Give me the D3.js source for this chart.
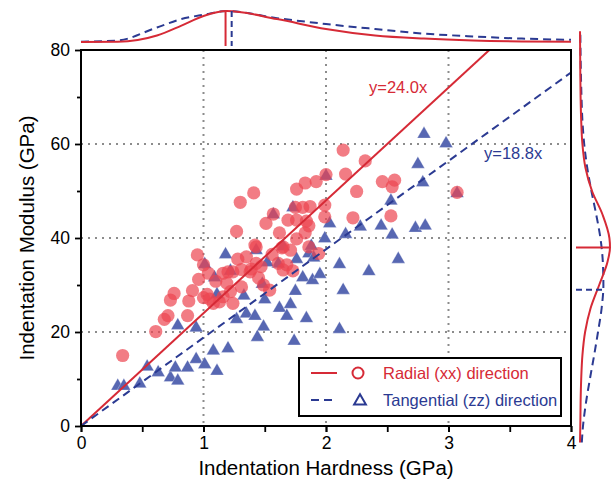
<!DOCTYPE html>
<html lang="en">
<head>
<meta charset="UTF-8">
<title>Indentation Modulus vs Hardness</title>
<script src="https://d3js.org/d3.v7.min.js"></script>
<style>
  body { margin: 0; background: #fff; }
  svg text { font-family: 'Liberation Sans', Arial, sans-serif; }
  .grid line { stroke: #8c8c8c; stroke-width: 2; stroke-dasharray: 2,5; }
  .axis path, .axis line { stroke: #000; stroke-width: 1.8; }
  .axis text { font-size: 17.5px; fill: #000; }
</style>
</head>
<body>
<div id="chart"></div>
<script>
// radial (xx) direction: hardness (GPa), modulus (GPa)
var radialH = [0.34, 0.61, 0.68, 0.71, 0.73, 0.76, 0.87, 0.88, 0.91, 0.95, 0.96, 1.00, 1.03, 1.04, 1.05,
  1.08, 1.13, 1.16, 1.19, 1.22, 1.24, 1.24, 1.31, 1.31, 1.27, 1.38, 1.42, 1.43, 1.47, 1.49,
  1.54, 1.56, 1.61, 1.62, 1.65, 1.68, 1.64, 1.71, 1.76, 1.83, 1.30, 1.41, 1.51, 1.69, 1.76,
  1.83, 1.92, 1.81, 1.87, 1.99, 1.76, 1.84, 1.57, 1.75, 1.99, 1.86, 1.43, 1.65, 1.86, 1.94,
  1.20, 1.39, 1.16, 2.14, 2.16, 2.00, 2.32, 2.25, 2.46, 2.56, 2.54, 3.07, 2.22, 2.53, 1.10,
  1.35, 1.45, 1.28, 1.73, 1.00];
var radialE = [15.0, 20.1, 22.7, 23.5, 26.8, 28.2, 23.5, 26.6, 28.8, 36.4, 31.2, 34.3, 28.0, 32.5, 27.0,
  26.1, 26.4, 32.5, 30.4, 28.6, 26.1, 32.8, 33.3, 29.6, 41.4, 32.8, 38.5, 34.6, 33.9, 30.0,
  28.9, 36.5, 34.6, 41.1, 33.2, 34.3, 37.9, 37.4, 39.8, 41.1, 47.6, 49.6, 43.1, 43.8, 50.4,
  51.7, 52.0, 46.5, 46.7, 47.0, 43.8, 43.6, 45.1, 46.5, 44.5, 42.6, 38.1, 38.1, 38.1, 36.7,
  32.8, 33.4, 27.5, 58.7, 53.6, 53.5, 56.4, 49.9, 52.0, 52.3, 50.9, 49.7, 44.3, 44.7, 30.8,
  36.0, 31.5, 35.5, 33.0, 27.3];

// tangential (zz) direction
var tangentialH = [0.30, 0.35, 0.48, 0.54, 0.63, 0.73, 0.79, 0.77, 0.87, 0.94, 1.01, 1.11, 1.08, 1.20,
  0.79, 0.94, 1.18, 1.01, 1.11, 1.22, 1.09, 1.33, 1.27, 1.35, 1.42, 1.49, 1.44, 1.50, 1.48,
  1.43, 1.62, 1.68, 1.71, 1.75, 1.74, 1.84, 1.81, 1.89, 1.95, 1.76, 1.86, 1.90, 1.88, 1.99,
  1.65, 1.61, 1.52, 2.11, 2.14, 2.80, 2.98, 2.75, 2.79, 2.53, 2.16, 2.28, 2.45, 2.54, 2.73,
  2.81, 2.11, 2.35, 2.59, 2.03, 1.57, 1.73, 2.00, 3.07];
var tangentialE = [8.7, 8.7, 9.2, 12.8, 11.6, 10.5, 9.8, 12.6, 12.6, 14.4, 13.3, 11.9, 16.2, 16.7,
  21.6, 21.1, 36.7, 34.6, 28.2, 33.2, 31.8, 27.9, 22.9, 24.1, 23.6, 21.3, 19.1, 27.1, 30.4,
  37.6, 25.3, 23.6, 26.1, 28.9, 18.3, 23.1, 31.8, 31.2, 32.5, 35.7, 36.9, 36.0, 38.5, 40.1,
  38.4, 34.7, 35.0, 20.8, 29.1, 62.3, 60.3, 55.9, 52.0, 48.1, 41.0, 42.6, 42.8, 40.9, 42.3,
  42.8, 34.6, 33.1, 35.7, 43.3, 45.2, 46.7, 53.4, 49.7];

// linear fits through the origin
var radialSlope = 24.0;
var tangentialSlope = 18.8;

// marginal distributions (relative density)
var topH = [0, 0.3, 0.62, 0.82, 1.0, 1.19, 1.6, 2.0, 2.4, 2.8, 3.2, 3.6, 4.0];
var topRadial = [0, 0.01, 0.21, 0.53, 0.84, 1.0, 0.74, 0.42, 0.21, 0.11, 0.05, 0.02, 0.01];
var topTangential = [0.01, 0.05, 0.47, 0.74, 0.88, 1.0, 0.77, 0.58, 0.42, 0.27, 0.18, 0.11, 0.07];
var sideE = [-3.5, 0, 5, 10, 15, 20, 25, 30, 35, 38, 40, 45, 50, 55, 60, 65, 70, 75, 84];
var sideRadial = [0, 0.01, 0.02, 0.04, 0.08, 0.17, 0.35, 0.64, 0.92, 1.0, 0.98, 0.75, 0.4, 0.18, 0.08, 0.04, 0.02, 0.01, 0];
var sideTangential = [0.06, 0.1, 0.2, 0.33, 0.47, 0.6, 0.72, 0.78, 0.76, 0.72, 0.68, 0.54, 0.38, 0.24, 0.14, 0.08, 0.05, 0.03, 0.01];
var peakH = {radial: 1.18, tangential: 1.23};
var peakE = {radial: 38, tangential: 29};

var xTicks = [0, 1, 2, 3, 4];
var yTicks = [0, 20, 40, 60, 80];

var red = "#d62a36", blue = "#2b3a92";
var width = 614, height = 495;
var plot = {left: 81, top: 50, right: 571, bottom: 426};

var x = d3.scaleLinear().domain([0, 4]).range([plot.left, plot.right]);
var y = d3.scaleLinear().domain([0, 80]).range([plot.bottom, plot.top]);
var topY = d3.scaleLinear().domain([0, 1]).range([42, 11]);
var sideX = d3.scaleLinear().domain([0, 1]).range([580, 610]);

var svg = d3.select("#chart").append("svg")
    .attr("width", width)
    .attr("height", height)
    .style("background", "#fff");

// grid
var grid = svg.append("g").attr("class", "grid");
grid.selectAll(".gx").data(xTicks.slice(1, -1)).enter().append("line")
    .attr("x1", function(d){return x(d);}).attr("x2", function(d){return x(d);})
    .attr("y1", plot.top).attr("y2", plot.bottom);
grid.selectAll(".gy").data(yTicks.slice(1, -1)).enter().append("line")
    .attr("y1", function(d){return y(d);}).attr("y2", function(d){return y(d);})
    .attr("x1", plot.left).attr("x2", plot.right);

// points
var tri = d3.symbol().type(d3.symbolTriangle).size(80);
svg.append("g").selectAll("path").data(tangentialH).enter().append("path")
    .attr("d", tri)
    .attr("transform", function(d, i){return "translate(" + x(d) + "," + (y(tangentialE[i]) + 1) + ")";})
    .attr("fill", "#5767b2")
    .attr("stroke", "#fff")
    .attr("stroke-opacity", 0.5)
    .attr("stroke-width", 0.6);

svg.append("g").selectAll("circle").data(radialH).enter().append("circle")
    .attr("cx", function(d){return x(d);})
    .attr("cy", function(d, i){return y(radialE[i]);})
    .attr("r", 6.6)
    .attr("fill", "#ec4550")
    .attr("fill-opacity", 0.7);

// fit lines
var clipH = 80 / radialSlope;
svg.append("line")
    .attr("x1", x(0)).attr("y1", y(0))
    .attr("x2", x(clipH)).attr("y2", y(80))
    .attr("stroke", red).attr("stroke-width", 2);
svg.append("line")
    .attr("x1", x(0)).attr("y1", y(0))
    .attr("x2", x(4)).attr("y2", y(4 * tangentialSlope))
    .attr("stroke", blue).attr("stroke-width", 2).attr("stroke-dasharray", "8,5");

svg.append("text").attr("x", 369).attr("y", 93).attr("fill", red)
    .style("font-size", "16.5px").text("y=" + radialSlope.toFixed(1) + "x");
svg.append("text").attr("x", 484).attr("y", 159).attr("fill", blue)
    .style("font-size", "16.5px").text("y=" + tangentialSlope.toFixed(1) + "x");

// axes
svg.append("g").attr("class", "axis")
    .attr("transform", "translate(0," + plot.bottom + ")")
    .call(d3.axisBottom(x).tickValues(d3.range(0, 4.01, 0.5)).tickSize(6).tickFormat(""))
    .call(function(g){ g.select(".domain").remove(); });
svg.append("g").attr("class", "axis")
    .attr("transform", "translate(0," + plot.bottom + ")")
    .call(d3.axisBottom(x).tickValues(xTicks).tickSize(6).tickPadding(5).tickFormat(d3.format("d")))
    .call(function(g){ g.select(".domain").remove(); });
svg.append("g").attr("class", "axis")
    .attr("transform", "translate(" + plot.left + ",0)")
    .call(d3.axisLeft(y).tickValues(d3.range(10, 80, 20)).tickSize(4).tickFormat(""))
    .call(function(g){ g.select(".domain").remove(); });
svg.append("g").attr("class", "axis")
    .attr("transform", "translate(" + plot.left + ",0)")
    .call(d3.axisLeft(y).tickValues(yTicks).tickSize(6).tickPadding(5).tickFormat(d3.format("d")))
    .call(function(g){ g.select(".domain").remove(); });

svg.append("rect")
    .attr("x", plot.left).attr("y", plot.top)
    .attr("width", plot.right - plot.left).attr("height", plot.bottom - plot.top)
    .attr("fill", "none").attr("stroke", "#000").attr("stroke-width", 2);

svg.append("text")
    .attr("x", 326).attr("y", 475)
    .attr("text-anchor", "middle").style("font-size", "20.5px")
    .text("Indentation Hardness (GPa)");
svg.append("text")
    .attr("transform", "translate(34," + ((plot.top + plot.bottom) / 2) + ") rotate(-90)")
    .attr("text-anchor", "middle").style("font-size", "20.5px")
    .text("Indentation Modulus (GPa)");

// legend
var lg = svg.append("g").attr("transform", "translate(299,358)");
lg.append("rect").attr("width", 262).attr("height", 58)
    .attr("fill", "#fff").attr("stroke", "#000").attr("stroke-width", 2);
lg.append("line").attr("x1", 12).attr("x2", 38).attr("y1", 15).attr("y2", 15)
    .attr("stroke", red).attr("stroke-width", 2);
lg.append("circle").attr("cx", 59).attr("cy", 15).attr("r", 5.5)
    .attr("fill", "none").attr("stroke", red).attr("stroke-width", 2);
lg.append("text").attr("x", 84).attr("y", 21).attr("fill", red)
    .style("font-size", "16.5px").text("Radial (xx) direction");
lg.append("line").attr("x1", 12).attr("x2", 38).attr("y1", 42).attr("y2", 42)
    .attr("stroke", blue).attr("stroke-width", 2).attr("stroke-dasharray", "8,5");
lg.append("path").attr("d", d3.symbol().type(d3.symbolTriangle).size(60))
    .attr("transform", "translate(61,43)")
    .attr("fill", "none").attr("stroke", blue).attr("stroke-width", 2);
lg.append("text").attr("x", 84).attr("y", 48).attr("fill", blue)
    .style("font-size", "16.5px").text("Tangential (zz) direction");

// top marginal
var topLine = d3.line()
    .x(function(d, i){return x(topH[i]);})
    .y(function(d){return topY(d);})
    .curve(d3.curveMonotoneX);
svg.append("path").datum(topTangential).attr("d", topLine)
    .attr("fill", "none").attr("stroke", blue).attr("stroke-width", 2).attr("stroke-dasharray", "8,5");
svg.append("path").datum(topRadial).attr("d", topLine)
    .attr("fill", "none").attr("stroke", red).attr("stroke-width", 2);
svg.append("line").attr("x1", x(peakH.radial)).attr("x2", x(peakH.radial))
    .attr("y1", topY(1)).attr("y2", 46).attr("stroke", red).attr("stroke-width", 2);
svg.append("line").attr("x1", x(peakH.tangential)).attr("x2", x(peakH.tangential))
    .attr("y1", topY(1)).attr("y2", 46).attr("stroke", blue).attr("stroke-width", 2).attr("stroke-dasharray", "6,4");

// side marginal
var sideLine = d3.line()
    .x(function(d){return sideX(d);})
    .y(function(d, i){return y(sideE[i]);})
    .curve(d3.curveMonotoneY);
svg.append("path").datum(sideTangential).attr("d", sideLine)
    .attr("fill", "none").attr("stroke", blue).attr("stroke-width", 2).attr("stroke-dasharray", "8,5");
svg.append("path").datum(sideRadial).attr("d", sideLine)
    .attr("fill", "none").attr("stroke", red).attr("stroke-width", 2);
svg.append("line").attr("y1", y(peakE.radial)).attr("y2", y(peakE.radial))
    .attr("x1", 576).attr("x2", sideX(1)).attr("stroke", red).attr("stroke-width", 2);
svg.append("line").attr("y1", y(peakE.tangential)).attr("y2", y(peakE.tangential))
    .attr("x1", 576).attr("x2", sideX(0.78)).attr("stroke", blue).attr("stroke-width", 2).attr("stroke-dasharray", "6,4");
</script>
</body>
</html>
